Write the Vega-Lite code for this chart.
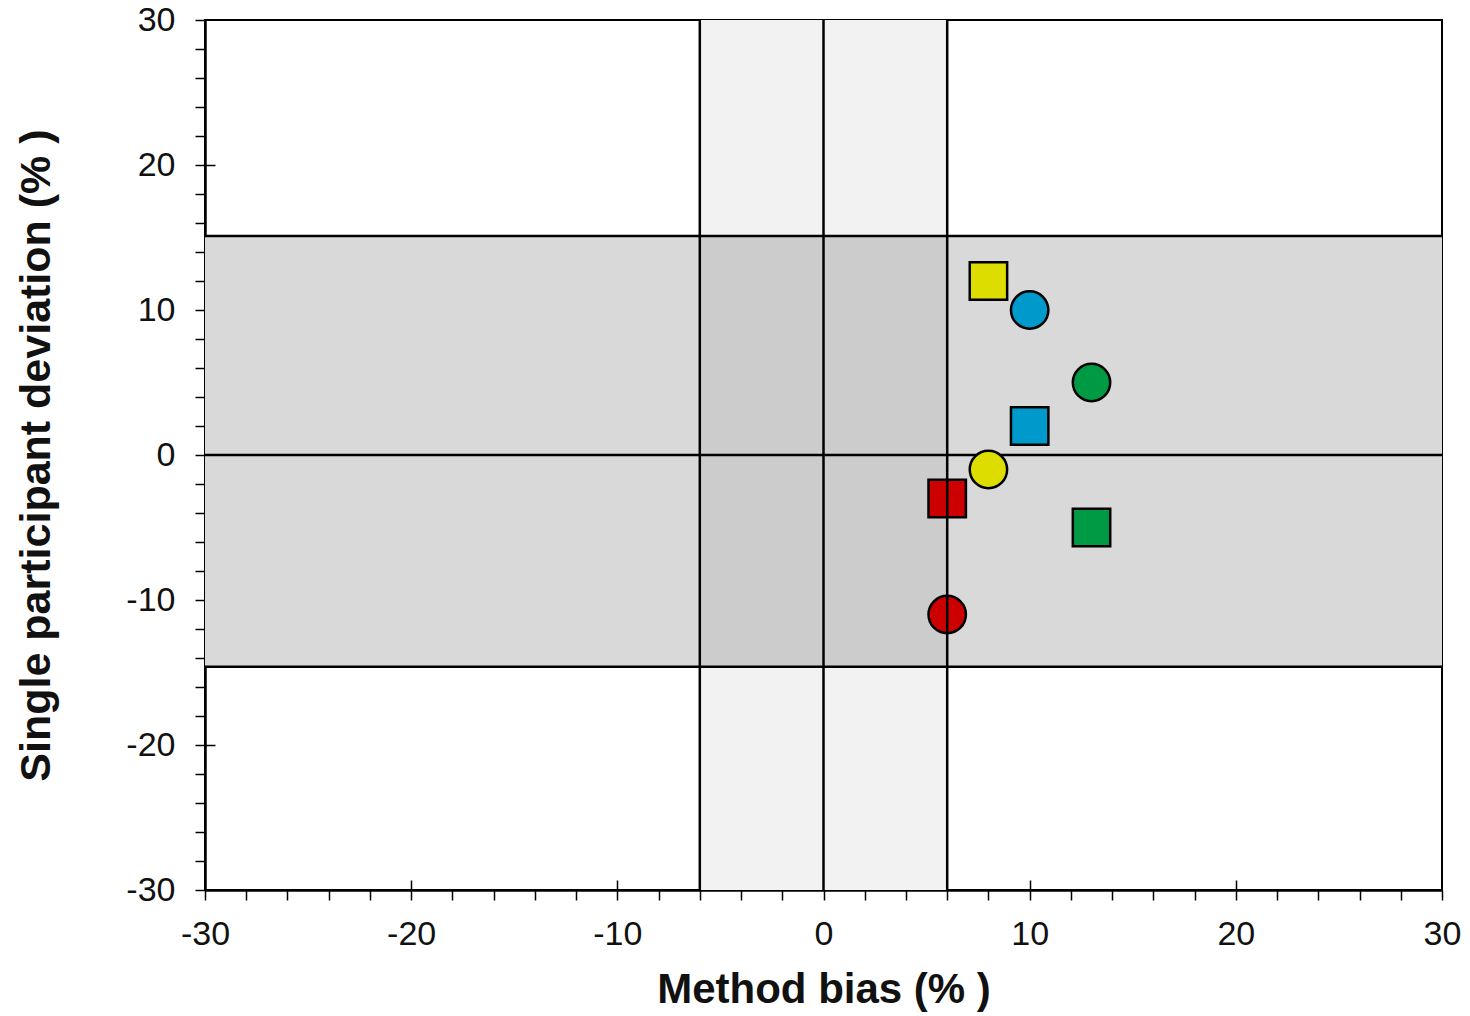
{
  "$schema": "https://vega.github.io/schema/vega-lite/v6.json",
  "width": 1237,
  "height": 870,
  "autosize": {"type": "none"},
  "padding": {"left": 205, "top": 20, "right": 28, "bottom": 126},
  "background": "white",
  "config": {
    "view": {"stroke": "black", "strokeWidth": 2},
    "font": "Liberation Sans",
    "axis": {"grid": false}
  },
  "datasets": {
    "bands": [
      {"x": -6, "x2": 6, "y": -30, "y2": 30, "fill": "#f2f2f2"},
      {"x": -30, "x2": 30, "y": -14.6, "y2": 15.1, "fill": "#d9d9d9"},
      {"x": -6, "x2": 6, "y": -14.6, "y2": 15.1, "fill": "#cccccc"}
    ],
    "vlines": [{"x": -6}, {"x": 0}, {"x": 6}],
    "hlines": [{"y": -14.6}, {"y": 0}, {"y": 15.1}],
    "points": [
      {"bias": 8, "dev": 12, "shape": "square", "color": "#dddd00"},
      {"bias": 10, "dev": 10, "shape": "circle", "color": "#0099cc"},
      {"bias": 13, "dev": 5, "shape": "circle", "color": "#009944"},
      {"bias": 10, "dev": 2, "shape": "square", "color": "#0099cc"},
      {"bias": 8, "dev": -1, "shape": "circle", "color": "#dddd00"},
      {"bias": 6, "dev": -3, "shape": "square", "color": "#cc0000"},
      {"bias": 13, "dev": -5, "shape": "square", "color": "#009944"},
      {"bias": 6, "dev": -11, "shape": "circle", "color": "#cc0000"}
    ]
  },
  "layer": [
    {
      "data": {"name": "bands"},
      "mark": {"type": "rect"},
      "encoding": {
        "x": {
          "field": "x", "type": "quantitative",
          "scale": {"domain": [-30, 30], "nice": false, "zero": false},
          "axis": {
            "orient": "bottom",
            "values": [-30,-28,-26,-24,-22,-20,-18,-16,-14,-12,-10,-8,-6,-4,-2,0,2,4,6,8,10,12,14,16,18,20,22,24,26,28,30],
            "labelExpr": "datum.value % 10 === 0 ? '' + datum.value : ''",
            "tickSize": 10, "tickWidth": 1.5, "tickColor": "black",
            "domainColor": "black", "domainWidth": 2.5,
            "labelFont": "Liberation Sans", "labelFontSize": 34, "labelColor": "#111111",
            "labelPadding": 17, "labelFlush": false, "labelOverlap": false,
            "title": "Method bias (% )",
            "titleFont": "Liberation Sans", "titleFontSize": 42, "titleFontWeight": "bold",
            "titleColor": "#111111", "titlePadding": 18
          }
        },
        "x2": {"field": "x2"},
        "y": {
          "field": "y", "type": "quantitative",
          "scale": {"domain": [-30, 30], "nice": false, "zero": false},
          "axis": {
            "orient": "left",
            "values": [-30,-28,-26,-24,-22,-20,-18,-16,-14,-12,-10,-8,-6,-4,-2,0,2,4,6,8,10,12,14,16,18,20,22,24,26,28,30],
            "labelExpr": "datum.value % 10 === 0 ? '' + datum.value : ''",
            "tickSize": 10, "tickWidth": 1.5, "tickColor": "black",
            "domainColor": "black", "domainWidth": 2.5,
            "labelFont": "Liberation Sans", "labelFontSize": 34, "labelColor": "#111111",
            "labelPadding": 20, "labelFlush": false, "labelOverlap": false,
            "title": "Single participant deviation (% )",
            "titleFont": "Liberation Sans", "titleFontSize": 43, "titleFontWeight": "bold",
            "titleColor": "#111111", "titlePadding": 67
          }
        },
        "y2": {"field": "y2"},
        "fill": {"field": "fill", "type": "nominal", "scale": null}
      }
    },
    {
      "data": {"name": "hlines"},
      "mark": {"type": "rule", "color": "black", "strokeWidth": 2.5},
      "encoding": {
        "y": {"field": "y", "type": "quantitative", "axis": null}
      }
    },
    {
      "data": {"name": "points"},
      "mark": {"type": "point", "filled": true, "stroke": "black", "strokeWidth": 2.5, "size": 1400, "opacity": 1},
      "encoding": {
        "x": {
          "field": "bias", "type": "quantitative",
          "axis": {
            "orient": "bottom", "values": [-20, -10, 0, 10, 20], "tickSize": -10, "tickWidth": 1.5,
            "tickColor": "black", "labels": false, "domain": false, "title": null
          }
        },
        "y": {
          "field": "dev", "type": "quantitative",
          "axis": {
            "orient": "left", "values": [-20, -10, 0, 10, 20], "tickSize": -10, "tickWidth": 1.5,
            "tickColor": "black", "labels": false, "domain": false, "title": null
          }
        },
        "shape": {"field": "shape", "type": "nominal", "scale": null},
        "fill": {"field": "color", "type": "nominal", "scale": null}
      }
    },
    {
      "data": {"name": "vlines"},
      "mark": {"type": "rule", "color": "black", "strokeWidth": 2.5},
      "encoding": {
        "x": {"field": "x", "type": "quantitative", "axis": null}
      }
    }
  ],
  "resolve": {"axis": {"x": "independent", "y": "independent"}}
}
